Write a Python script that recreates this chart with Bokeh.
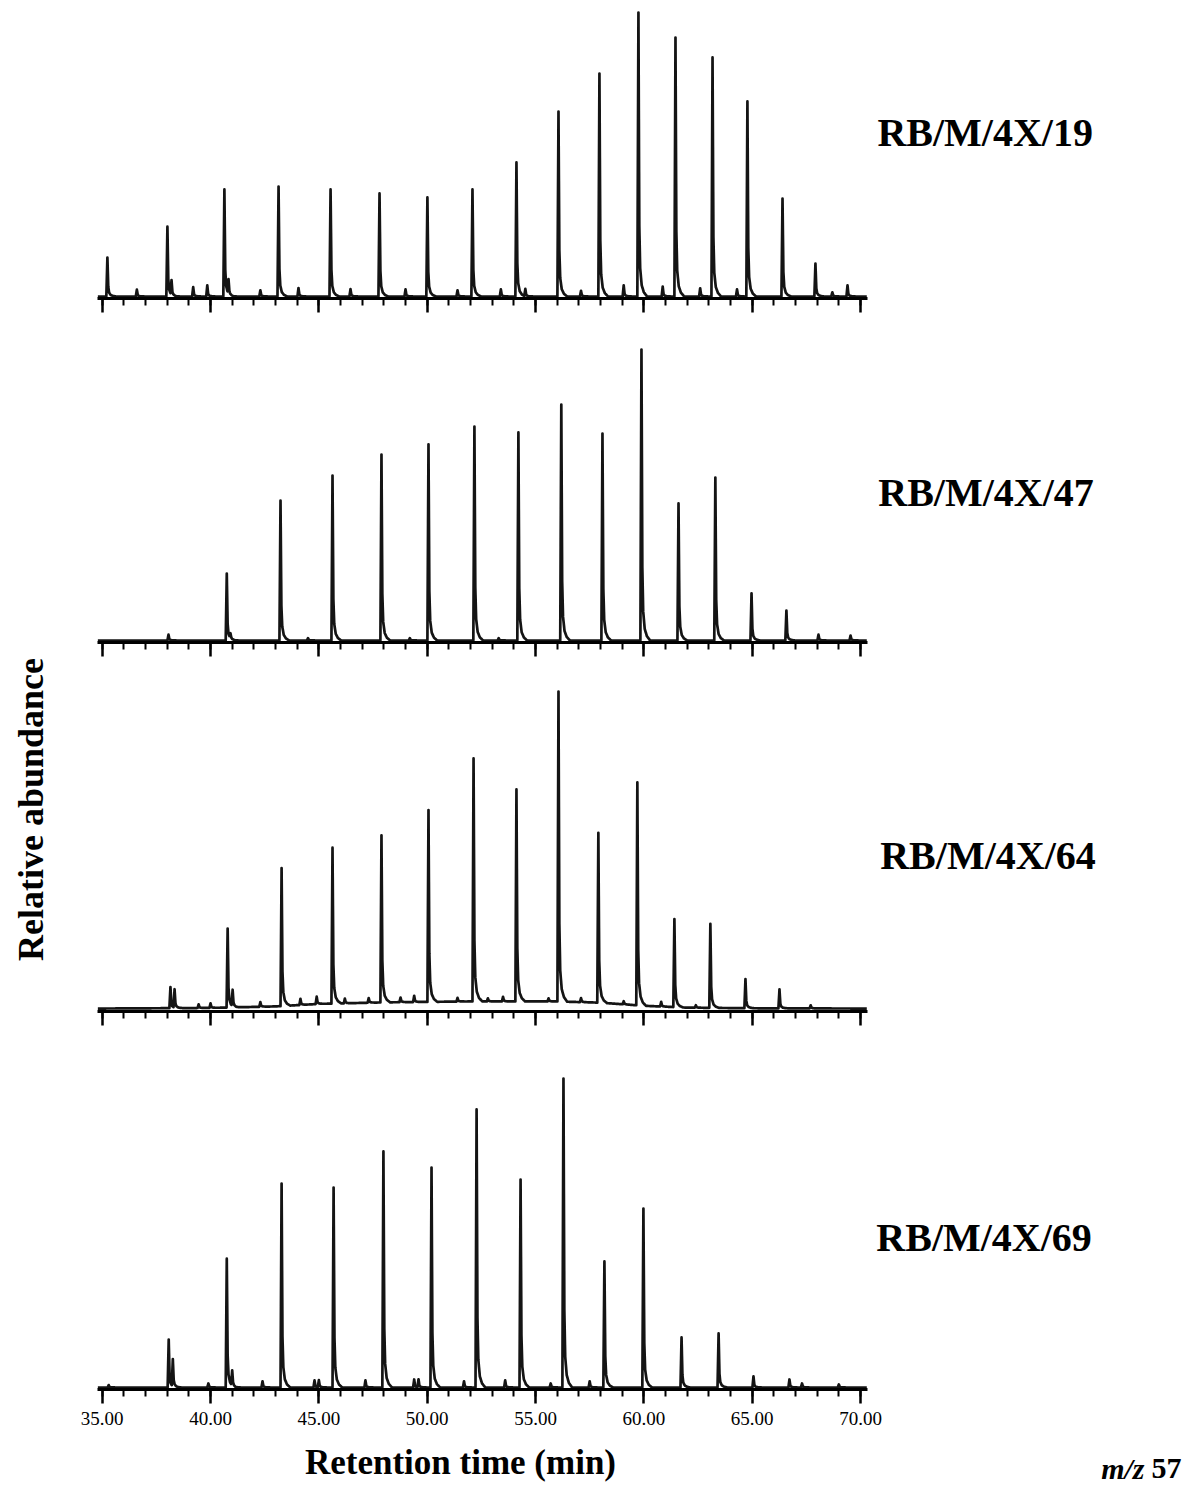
import numpy as np
from bokeh.plotting import figure
from bokeh.models import Range1d, FixedTicker, PrintfTickFormatter, Label
from bokeh.layouts import row, column
from bokeh.embed import file_html
from bokeh.resources import INLINE

# ---------------- data ----------------
X_MAJOR_TICKS = [35, 40, 45, 50, 55, 60, 65, 70]
X_MINOR_TICKS = list(range(35, 71))
X_TITLE = "Retention time (min)"
Y_TITLE = "Relative abundance"
ION_ITALIC = "m/z"
ION_MASS = "57"

SAMPLES = ["RB/M/4X/19", "RB/M/4X/47", "RB/M/4X/64", "RB/M/4X/69"]

# main n-alkane peaks: retention time (min), relative height (%)
P19_TIMES = [35.24, 38.01, 40.64, 43.14, 45.54, 47.80, 50.01, 52.09, 54.12, 56.06,
             57.95, 59.75, 61.46, 63.17, 64.78, 66.40, 67.92, 69.40]
P19_HEIGHTS = [13.7, 24.6, 37.7, 38.7, 37.7, 36.3, 34.9, 37.7, 47.2, 65.1,
               78.5, 100.0, 91.2, 84.2, 68.7, 34.5, 11.6, 3.9]
P19_MINOR_TIMES = [36.6, 38.2, 39.2, 39.85, 40.83, 42.3, 44.06, 46.46, 49.0, 51.4,
                   53.4, 54.53, 57.1, 59.07, 60.87, 62.6, 64.3, 68.7]
P19_MINOR_HEIGHTS = [2.4, 5.0, 3.3, 3.9, 5.0, 2.2, 3.0, 2.6, 2.5, 2.2,
                     2.5, 2.7, 2.0, 3.9, 3.5, 2.9, 2.5, 1.5]

P47_TIMES = [40.75, 43.23, 45.63, 47.89, 50.06, 52.18, 54.21, 56.19, 58.09, 59.89,
             61.60, 63.30, 64.97, 66.58]
P47_HEIGHTS = [23.0, 48.1, 56.7, 63.9, 67.4, 73.5, 71.5, 81.1, 71.1, 100.0,
               47.1, 56.0, 16.2, 10.3]
P47_MINOR_TIMES = [38.06, 40.92, 44.5, 49.2, 53.3, 68.06, 69.54]
P47_MINOR_HEIGHTS = [2.0, 1.7, 0.8, 0.8, 0.8, 2.0, 1.7]

P64_TIMES = [40.79, 43.28, 45.63, 47.89, 50.06, 52.14, 54.12, 56.06, 57.90, 59.70,
             61.41, 63.07, 64.69, 66.26]
P64_HEIGHTS = [25.5, 44.5, 50.3, 53.9, 61.9, 78.4, 68.4, 100.0, 54.8, 71.9,
               28.4, 27.1, 9.4, 6.1]
P64_MINOR_TIMES = [38.15, 38.34, 39.45, 40.0, 41.02, 42.3, 44.15, 44.9, 46.2, 47.3,
                   48.77, 49.4, 51.4, 52.8, 53.5, 55.6, 57.1, 59.07, 60.8, 62.4, 67.7]
P64_MINOR_HEIGHTS = [6.8, 5.9, 1.2, 1.5, 5.2, 1.5, 2.0, 2.4, 1.5, 1.5,
                     1.5, 2.0, 1.2, 1.0, 1.5, 1.0, 1.3, 1.0, 1.5, 0.8, 1.0]
# slowly rising hump under the peaks of sample 64 (time, level %)
P64_BASE_TIMES = [34.8, 40.0, 43.0, 45.0, 48.0, 52.0, 56.0, 58.0, 60.0, 62.0, 65.0, 70.3]
P64_BASE_LEVELS = [0.3, 0.5, 1.0, 1.8, 2.3, 2.6, 2.6, 2.2, 1.2, 0.6, 0.4, 0.3]

P69_TIMES = [38.07, 40.75, 43.28, 45.68, 47.98, 50.20, 52.28, 54.31, 56.29, 58.18,
             59.98, 61.74, 63.45, 65.06, 66.72]
P69_HEIGHTS = [15.5, 41.7, 66.0, 64.7, 76.4, 71.2, 90.0, 67.3, 100.0, 40.8,
               57.9, 16.2, 17.5, 3.6, 2.6]
P69_MINOR_TIMES = [35.3, 38.26, 39.9, 41.0, 42.4, 44.8, 45.0, 47.15, 49.4, 49.6,
                   51.7, 53.6, 55.7, 57.5, 67.3, 69.0]
P69_MINOR_HEIGHTS = [0.8, 8.7, 1.3, 4.9, 2.0, 2.3, 2.3, 2.3, 2.6, 2.6,
                     2.0, 2.3, 1.3, 2.0, 1.3, 1.0]

# ---------------- drawing helpers ----------------
PX_PER_MIN = 21.666
T_START, T_END = 34.8, 70.3
# tailing peak profile (offset in minutes, fraction of apex)
SHAPE_DT = [-0.05, 0.0, 0.04, 0.08, 0.15, 0.25, 0.40]
SHAPE_FR = [0.0, 1.0, 0.25, 0.10, 0.04, 0.015, 0.0]
INK = "#141414"
SERIF = "Liberation Serif"
LEFT_W = 50
PANEL_W = 1135


def trace(times, heights, mtimes, mheights, btimes=None, blevels=None):
    all_t = np.array(list(times) + list(mtimes), dtype=float)
    all_h = np.array(list(heights) + list(mheights), dtype=float)
    grid = np.unique(np.concatenate([np.arange(T_START, T_END, 0.01), all_t]))
    if btimes is None:
        y = np.zeros_like(grid)
    else:
        y = np.interp(grid, btimes, blevels)
    for t0, h0 in zip(all_t, all_h):
        y = y + h0 * np.interp(grid - t0, SHAPE_DT, SHAPE_FR, left=0.0, right=0.0)
    return grid, y


def panel(frame_h, bottom_b, ylo, yhi, xs, ys, label, label_x, label_y, show_labels):
    x0 = 35.0 - (101.7 - LEFT_W) / PX_PER_MIN
    x1 = x0 + PANEL_W / PX_PER_MIN
    p = figure(width=PANEL_W, height=frame_h + bottom_b, x_range=Range1d(x0, x1),
               y_range=Range1d(ylo, yhi), output_backend="svg",
               toolbar_location=None, y_axis_location=None,
               min_border_left=0, min_border_right=0, min_border_top=0,
               min_border_bottom=bottom_b, outline_line_color=None,
               background_fill_color="white", border_fill_color="white")
    p.grid.visible = False
    p.line(xs, ys, line_color=INK, line_width=2.7, line_join="round")
    ax = p.xaxis[0]
    ax.ticker = FixedTicker(ticks=X_MAJOR_TICKS, minor_ticks=X_MINOR_TICKS)
    ax.bounds = (T_START, T_END)
    ax.axis_line_width = 3
    ax.axis_line_color = "black"
    ax.major_tick_line_width = 2.5
    ax.minor_tick_line_width = 2
    ax.major_tick_line_color = "black"
    ax.minor_tick_line_color = "black"
    ax.major_tick_in = 0
    ax.major_tick_out = 14
    ax.minor_tick_in = 0
    ax.minor_tick_out = 7
    if show_labels:
        ax.formatter = PrintfTickFormatter(format="%.2f")
        ax.major_label_text_font = SERIF
        ax.major_label_text_font_size = "19px"
        ax.major_label_text_color = "black"
        ax.major_label_standoff = 8
    else:
        ax.major_label_overrides = {t: "" for t in X_MAJOR_TICKS}
        ax.major_label_text_font_size = "10px"
        ax.major_label_standoff = 0
    p.add_layout(Label(x=label_x, y=label_y, text=label, text_font=SERIF,
                       text_font_style="bold", text_font_size="40px",
                       text_color="black", text_align="left",
                       text_baseline="middle"))
    return p


x19, y19 = trace(P19_TIMES, P19_HEIGHTS, P19_MINOR_TIMES, P19_MINOR_HEIGHTS)
x47, y47 = trace(P47_TIMES, P47_HEIGHTS, P47_MINOR_TIMES, P47_MINOR_HEIGHTS)
x64, y64 = trace(P64_TIMES, P64_HEIGHTS, P64_MINOR_TIMES, P64_MINOR_HEIGHTS,
                 P64_BASE_TIMES, P64_BASE_LEVELS)
x69, y69 = trace(P69_TIMES, P69_HEIGHTS, P69_MINOR_TIMES, P69_MINOR_HEIGHTS)

p1 = panel(298, 30, -0.70, 104.23, x19, y19, SAMPLES[0], 70.78, 57.7, False)
p2 = panel(314, 30, -0.69, 107.22, x47, y47, SAMPLES[1], 70.82, 50.9, False)
p3 = panel(339, 30, -0.645, 108.71, x64, y64, SAMPLES[2], 70.91, 49.7, False)
p4 = panel(348, 46, -0.647, 111.97, x69, y69, SAMPLES[3], 70.73, 48.5, True)

panels_h = 298 + 30 + 314 + 30 + 339 + 30 + 348 + 46

# left strip with the vertical title
left = figure(width=LEFT_W, height=panels_h, x_range=Range1d(0, LEFT_W),
              y_range=Range1d(panels_h, 0), output_backend="svg",
              toolbar_location=None, x_axis_location=None, y_axis_location=None,
              min_border=0, outline_line_color=None)
left.grid.visible = False
left.add_layout(Label(x=30, y=809, text=Y_TITLE, angle=np.pi / 2, text_font=SERIF,
                      text_font_style="bold", text_font_size="36px", text_color="black",
                      text_align="center", text_baseline="middle"))

# bottom strip with x title and ion label
BOTTOM_H = 52
bottom = figure(width=LEFT_W + PANEL_W, height=BOTTOM_H,
                x_range=Range1d(0, LEFT_W + PANEL_W), y_range=Range1d(BOTTOM_H, 0),
                output_backend="svg", toolbar_location=None, x_axis_location=None,
                y_axis_location=None, min_border=0, outline_line_color=None)
bottom.grid.visible = False
bottom.add_layout(Label(x=460, y=1462 - panels_h, text=X_TITLE, text_font=SERIF,
                        text_font_style="bold", text_font_size="35px", text_color="black",
                        text_align="center", text_baseline="middle"))
bottom.add_layout(Label(x=1144, y=1468 - panels_h, text=ION_ITALIC, text_font=SERIF,
                        text_font_style="bold italic", text_font_size="30px",
                        text_color="black", text_align="right", text_baseline="middle"))
bottom.add_layout(Label(x=1151, y=1468 - panels_h, text=ION_MASS, text_font=SERIF,
                        text_font_style="bold", text_font_size="30px",
                        text_color="black", text_align="left", text_baseline="middle"))

layout = column(row(left, column(p1, p2, p3, p4)), bottom)
open("out.html", "w").write(file_html(layout, INLINE))
